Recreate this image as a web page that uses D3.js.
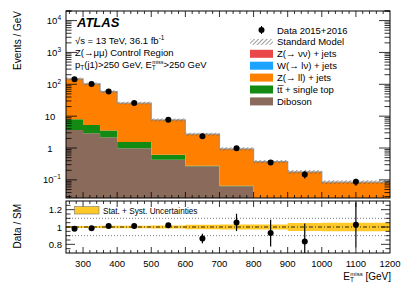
<!DOCTYPE html>
<html lang="en">
<head>
<meta charset="utf-8">
<title>Z(mumu) control region</title>
<script src="https://cdn.jsdelivr.net/npm/d3@7"></script>
<style>
body { margin: 0; background: #fff; }
svg { font-family: "Liberation Sans", Arial, sans-serif; }
</style>
</head>
<body>
<div id="chart"></div>
<script>
// bins in E_T^miss [GeV]
var binEdges = [250, 300, 350, 400, 500, 600, 700, 800, 900, 1000, 1200];

// background stacks, events / GeV (bottom to top)
var diboson = [3.7, 2.93, 2.19, 0.99, 0.43, 0.27, 0.063, 0.02, 0.01, 0.005];
var ttbar   = [4.35, 2.37, 1.36, 0.56, 0.18, 0.01, 0.003, 0.001, 0.0005, 0.0002];
var zll     = [139.6, 97.5, 55.3, 24.0, 6.97, 2.43, 0.868, 0.352, 0.166, 0.079];
var wlv     = [0.3, 0.2, 0.1, 0.05, 0.02, 0.01, 0.005, 0.002, 0.001, 0.0005];
var zvv     = [0.05, 0.03, 0.02, 0.01, 0.005, 0.002, 0.001, 0.0005, 0.0002, 0.0001];

// data and its uncertainty, events / GeV
var dataVals = [145, 101.5, 59.6, 25.9, 7.75, 2.36, 0.99, 0.349, 0.148, 0.087];
var dataErr  = [1.2, 1.0, 0.7, 0.31, 0.15, 0.15, 0.094, 0.058, 0.037, 0.022];

// relative SM uncertainty (stat + syst)
var smUnc = [0.012, 0.012, 0.014, 0.014, 0.016, 0.025, 0.028, 0.03, 0.045, 0.048];

var yTickExps = [-1, 0, 1, 2, 3, 4];
var ratioTicks = [0.8, 1, 1.2];
var xTickVals = [300, 400, 500, 600, 700, 800, 900, 1000, 1100, 1200];

var w = 415, h = 285;
var L = 66, R = 390, T = 11, B = 198, RT = 201, RB = 253;

var svg = d3.select("#chart").append("svg").attr("width", w).attr("height", h);

var x = d3.scaleLinear().domain([250, 1200]).range([L, R]);
var y = d3.scaleLog().domain([0.027, 2e4]).range([B, T]);
var yr = d3.scaleLinear().domain([0.7, 1.3]).range([RB, RT]);

var defs = svg.append("defs");
var hatch = defs.append("pattern").attr("id", "hatch").attr("patternUnits", "userSpaceOnUse")
  .attr("width", 3).attr("height", 3).attr("patternTransform", "rotate(45)");
hatch.append("line").attr("x1", 0).attr("y1", 0).attr("x2", 0).attr("y2", 3)
  .attr("stroke", "#555").attr("stroke-width", 1.2);
defs.append("clipPath").attr("id", "clipMain").append("rect")
  .attr("x", L).attr("y", T).attr("width", R - L).attr("height", B - T);
defs.append("clipPath").attr("id", "clipRatio").append("rect")
  .attr("x", L).attr("y", RT).attr("width", R - L).attr("height", RB - RT);

var procs = [
  { key: "diboson", vals: diboson, color: "#8a6a5b", label: "Diboson" },
  { key: "ttbar", vals: ttbar, color: "#138a12", label: "tt\u0305 + single top" },
  { key: "zll", vals: zll, color: "#ff7f00", label: "Z(\u2192 ll) + jets" },
  { key: "wlv", vals: wlv, color: "#1aa3ff", label: "W(\u2192 l\u03bd) + jets" },
  { key: "zvv", vals: zvv, color: "#ea4748", label: "Z(\u2192 \u03bd\u03bd) + jets" }
];

var rows = binEdges.slice(0, -1).map(function(lo, i) {
  var r = { lo: lo, hi: binEdges[i + 1] };
  procs.forEach(function(p) { r[p.key] = p.vals[i]; });
  return r;
});
var stacked = d3.stack().keys(procs.map(function(p) { return p.key; }))(rows);
var smTotal = rows.map(function(r) {
  return procs.reduce(function(s, p) { return s + r[p.key]; }, 0);
});

// turn per-bin values into step points
function steps(vals) {
  var pts = vals.map(function(v, i) { return { e: binEdges[i], v: v }; });
  pts.push({ e: binEdges[binEdges.length - 1], v: vals[vals.length - 1] });
  return pts;
}
function clampLog(v) { return Math.max(v, 1e-3); }

var main = svg.append("g").attr("clip-path", "url(#clipMain)");

stacked.forEach(function(layer, li) {
  var lo = layer.map(function(d) { return d[0]; });
  var hi = layer.map(function(d) { return d[1]; });
  var pl = steps(lo), ph = steps(hi);
  var area = d3.area().curve(d3.curveStepAfter)
    .x(function(d, i) { return x(ph[i].e); })
    .y0(function(d, i) { return li === 0 ? B + 2 : y(clampLog(pl[i].v)); })
    .y1(function(d, i) { return y(clampLog(ph[i].v)); });
  main.append("path").datum(ph).attr("d", area).attr("fill", procs[li].color)
    .attr("stroke", "none");
});

// SM uncertainty hatch + total line
var smPts = steps(smTotal);
var smUp = steps(smTotal.map(function(v, i) { return v * (1 + smUnc[i]); }));
var smDn = steps(smTotal.map(function(v, i) { return v * (1 - smUnc[i]); }));
main.append("path").datum(smPts)
  .attr("d", d3.area().curve(d3.curveStepAfter)
    .x(function(d) { return x(d.e); })
    .y0(function(d, i) { return y(smDn[i].v) + 1.2; })
    .y1(function(d, i) { return y(smUp[i].v) - 1.2; }))
  .attr("fill", "url(#hatch)");
main.append("path").datum(smPts)
  .attr("d", d3.line().curve(d3.curveStepAfter)
    .x(function(d) { return x(d.e); }).y(function(d) { return y(d.v); }))
  .attr("fill", "none").attr("stroke", "#8c8c8c").attr("stroke-width", 1.3).attr("opacity", 0.8);

// data points
var centers = rows.map(function(r) { return (r.lo + r.hi) / 2; });
main.selectAll(".derr").data(dataVals).enter().append("line")
  .attr("x1", function(d, i) { return x(centers[i]); })
  .attr("x2", function(d, i) { return x(centers[i]); })
  .attr("y1", function(d, i) { return y(d + dataErr[i]); })
  .attr("y2", function(d, i) { return y(Math.max(d - dataErr[i], 1e-3)); })
  .attr("stroke", "#000").attr("stroke-width", 1.2);
main.selectAll(".dpt").data(dataVals).enter().append("circle")
  .attr("cx", function(d, i) { return x(centers[i]); })
  .attr("cy", function(d) { return y(d); })
  .attr("r", 3).attr("fill", "#000");

// ratio panel
var rp = svg.append("g").attr("clip-path", "url(#clipRatio)");
var bandPts = steps(smUnc);
rp.append("path").datum(bandPts)
  .attr("d", d3.area().curve(d3.curveStepAfter)
    .x(function(d) { return x(d.e); })
    .y0(function(d) { return yr(1 - d.v); })
    .y1(function(d) { return yr(1 + d.v); }))
  .attr("fill", "#ffc929");
[1.1, 0.9].forEach(function(v) {
  rp.append("line").attr("x1", L).attr("x2", R).attr("y1", yr(v)).attr("y2", yr(v))
    .attr("stroke", "#555").attr("stroke-width", 0.8).attr("stroke-dasharray", "1,2");
});
rp.append("line").attr("x1", L).attr("x2", R).attr("y1", yr(1)).attr("y2", yr(1))
  .attr("stroke", "#000").attr("stroke-width", 0.8).attr("stroke-dasharray", "4,2,1,2");

var ratio = dataVals.map(function(d, i) { return d / smTotal[i]; });
var ratioErr = dataErr.map(function(e, i) { return e / smTotal[i]; });
rp.selectAll(".rerr").data(ratio).enter().append("line")
  .attr("x1", function(d, i) { return x(centers[i]); })
  .attr("x2", function(d, i) { return x(centers[i]); })
  .attr("y1", function(d, i) { return yr(d + ratioErr[i]); })
  .attr("y2", function(d, i) { return yr(d - ratioErr[i]); })
  .attr("stroke", "#000").attr("stroke-width", 1.2);
rp.selectAll(".rpt").data(ratio).enter().append("circle")
  .attr("cx", function(d, i) { return x(centers[i]); })
  .attr("cy", function(d) { return yr(d); })
  .attr("r", 3).attr("fill", "#000");

// frames
svg.append("rect").attr("x", L).attr("y", T).attr("width", R - L).attr("height", B - T)
  .attr("fill", "none").attr("stroke", "#000").attr("stroke-width", 1);
svg.append("rect").attr("x", L).attr("y", RT).attr("width", R - L).attr("height", RB - RT)
  .attr("fill", "none").attr("stroke", "#000").attr("stroke-width", 1);

// tick marks
var ticks = svg.append("g").attr("stroke", "#000").attr("stroke-width", 0.8);
var xMinor = d3.range(260, 1200, 20);
function xTicks(top, bot) {
  xMinor.forEach(function(v) {
    var major = v % 100 === 0;
    var len = major ? 6 : 3;
    ticks.append("line").attr("x1", x(v)).attr("x2", x(v)).attr("y1", bot).attr("y2", bot - len);
    ticks.append("line").attr("x1", x(v)).attr("x2", x(v)).attr("y1", top).attr("y2", top + len);
  });
}
xTicks(T, B);
xTicks(RT, RB);

y.ticks().forEach(function(v) {
  if (v < y.domain()[0] || v > y.domain()[1]) return;
  var major = Math.abs(Math.log10(v) - Math.round(Math.log10(v))) < 1e-6;
  var len = major ? 11 : 5.5;
  ticks.append("line").attr("x1", L).attr("x2", L + len).attr("y1", y(v)).attr("y2", y(v));
  ticks.append("line").attr("x1", R).attr("x2", R - len).attr("y1", y(v)).attr("y2", y(v));
});
// extra minor tick above 10^4
[2e4].forEach(function(v) {
  ticks.append("line").attr("x1", L).attr("x2", L + 5.5).attr("y1", y(v)).attr("y2", y(v));
  ticks.append("line").attr("x1", R).attr("x2", R - 5.5).attr("y1", y(v)).attr("y2", y(v));
});

d3.range(0.75, 1.3, 0.05).forEach(function(v) {
  var major = Math.abs(v * 10 - Math.round(v * 10)) < 1e-6 && Math.round(v * 10) % 2 === 0;
  var len = major ? 9 : 4.5;
  ticks.append("line").attr("x1", L).attr("x2", L + len).attr("y1", yr(v)).attr("y2", yr(v));
  ticks.append("line").attr("x1", R).attr("x2", R - len).attr("y1", yr(v)).attr("y2", yr(v));
});

// tick labels
var fs = 9.5;
yTickExps.forEach(function(e) {
  var t = svg.append("text").attr("y", y(Math.pow(10, e)) + 3.5).attr("font-size", fs);
  if (e === 0 || e === 1) {
    t.attr("x", 50).attr("text-anchor", "middle").text(e === 0 ? "1" : "10");
  } else {
    t.attr("x", 61).attr("text-anchor", "end");
    t.append("tspan").text("10");
    t.append("tspan").attr("dy", -4).attr("font-size", 6.5).text(e < 0 ? "\u22121" : String(e));
  }
});
ratioTicks.forEach(function(v) {
  svg.append("text").attr("x", 62).attr("y", yr(v) + 3.5).attr("text-anchor", "end")
    .attr("font-size", fs).text(v);
});
xTickVals.forEach(function(v) {
  svg.append("text").attr("x", x(v)).attr("y", 266.5).attr("text-anchor", "middle")
    .attr("font-size", fs).text(v);
});

// axis titles
svg.append("text").attr("transform", "translate(21," + (T) + ") rotate(-90)")
  .attr("text-anchor", "end").attr("font-size", 10).text("Events / GeV");
svg.append("text").attr("transform", "translate(21," + (RT + 3) + ") rotate(-90)")
  .attr("text-anchor", "end").attr("font-size", 10).text("Data / SM");
var xt = svg.append("text").attr("x", R + 1).attr("y", 279.5).attr("text-anchor", "end").attr("font-size", 10);
xt.append("tspan").text("E");
xt.append("tspan").attr("dy", 2.5).attr("font-size", 6.5).text("T");
xt.append("tspan").attr("dx", -3.6).attr("dy", -6.5).attr("font-size", 6).text("miss");
xt.append("tspan").attr("dy", 4).text(" [GeV]");

// ATLAS labels
svg.append("text").attr("x", 77).attr("y", 27).attr("font-size", 13)
  .attr("font-weight", "bold").attr("font-style", "italic").text("ATLAS");
var l1 = svg.append("text").attr("x", 75).attr("y", 44).attr("font-size", 9.5);
l1.append("tspan").text("\u221as = 13 TeV, 36.1 fb");
l1.append("tspan").attr("dy", -4).attr("font-size", 6.5).text("-1");
svg.append("text").attr("x", 75).attr("y", 55.5).attr("font-size", 9.5).text("Z(\u2192\u03bc\u03bc) Control Region");
var l3 = svg.append("text").attr("x", 75).attr("y", 67.5).attr("font-size", 9.5);
l3.append("tspan").text("p");
l3.append("tspan").attr("dy", 2.5).attr("font-size", 6.5).text("T");
l3.append("tspan").attr("dy", -2.5).text("(j1)>250 GeV, E");
l3.append("tspan").attr("dy", 2.5).attr("font-size", 6.5).text("T");
l3.append("tspan").attr("dx", -3.6).attr("dy", -6.5).attr("font-size", 5.5).text("miss");
l3.append("tspan").attr("dy", 4).text(">250 GeV");

// legend
var lg = svg.append("g");
var lx = 250, ly0 = 30, dy = 11.9;
lg.append("circle").attr("cx", lx + 11.5).attr("cy", ly0).attr("r", 3).attr("fill", "#000");
lg.append("line").attr("x1", lx + 11.5).attr("x2", lx + 11.5).attr("y1", ly0 - 4).attr("y2", ly0 + 4)
  .attr("stroke", "#000");
lg.append("text").attr("x", 277).attr("y", ly0 + 3.5).attr("font-size", fs).text("Data 2015+2016");
lg.append("rect").attr("x", lx).attr("y", ly0 + dy - 3).attr("width", 23).attr("height", 6)
  .attr("fill", "url(#hatch)");
lg.append("text").attr("x", 277).attr("y", ly0 + dy + 3.5).attr("font-size", fs).text("Standard Model");
procs.slice().reverse().forEach(function(p, i) {
  var cy = ly0 + dy * (i + 2);
  lg.append("rect").attr("x", lx).attr("y", cy - 4).attr("width", 23).attr("height", 8)
    .attr("fill", p.color);
  lg.append("text").attr("x", 277).attr("y", cy + 3.5).attr("font-size", fs).text(p.label);
});

// ratio legend
svg.append("rect").attr("x", 74.5).attr("y", 206.5).attr("width", 24.5).attr("height", 7.5)
  .attr("fill", "#ffc929").attr("stroke", "#777").attr("stroke-width", 0.6);
svg.append("text").attr("x", 103).attr("y", 213.5).attr("font-size", 8.2)
  .text("Stat. + Syst. Uncertainties");
</script>
</body>
</html>
